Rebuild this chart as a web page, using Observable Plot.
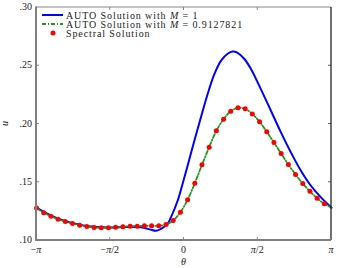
<!DOCTYPE html>
<html><head><meta charset="utf-8">
<script src="https://cdn.jsdelivr.net/npm/d3@7"></script>
<script src="https://cdn.jsdelivr.net/npm/@observablehq/plot@0.6"></script>
<style>body{margin:0;background:#fff} svg{display:block}</style>
</head><body><div id="chart"></div>
<script>
const PI = Math.PI;
// AUTO solution, M = 1 (blue)
const blueTheta = [-3.1416, -2.83, -2.52, -2.2, -1.9, -1.5708, -1.25, -0.914, -0.701, -0.595, -0.419, -0.346, -0.276, -0.134, -0.028, 0.074, 0.219, 0.361, 0.504, 0.644, 0.786, 0.929, 1.035, 1.141, 1.282, 1.424, 1.566, 1.849, 2.062, 2.274, 2.487, 2.699, 2.912, 3.1416];
const blueU = [0.1282, 0.1214, 0.1166, 0.1134, 0.1117, 0.1112, 0.1115, 0.1113, 0.1092, 0.1084, 0.1118, 0.1145, 0.1200, 0.1343, 0.1490, 0.1637, 0.1855, 0.2058, 0.2257, 0.2425, 0.2542, 0.2603, 0.2622, 0.2611, 0.2560, 0.2474, 0.2359, 0.2116, 0.1930, 0.1758, 0.1601, 0.1472, 0.1372, 0.1282];
// Spectral solution (red dots), evenly spaced grid on [-pi, pi)
const spectralU = [0.1278, 0.1238, 0.1209, 0.1183, 0.1163, 0.1146, 0.1131, 0.1120, 0.1112, 0.1109, 0.1109, 0.1114, 0.1118, 0.1122, 0.1123, 0.1126, 0.1126, 0.1126, 0.1137, 0.1172, 0.1243, 0.1349, 0.1492, 0.1650, 0.1801, 0.1942, 0.2041, 0.2110, 0.2139, 0.2130, 0.2086, 0.2020, 0.1933, 0.1841, 0.1747, 0.1652, 0.1567, 0.1489, 0.1423, 0.1363, 0.1315];
const spectralTheta = spectralU.map((_, k) => -PI + 2 * PI * k / spectralU.length);
// AUTO solution, M = 0.9127821 (green dash-dot)
const greenTheta = [...spectralTheta, PI];
const greenU = [0.1278, 0.1238, 0.1209, 0.1183, 0.1163, 0.1146, 0.1131, 0.1120, 0.1112, 0.1109, 0.1109, 0.1114, 0.1118, 0.1122, 0.1123, 0.1126, 0.1126, 0.1126, 0.1137, 0.1172, 0.1243, 0.1349, 0.1492, 0.1650, 0.1801, 0.1942, 0.2041, 0.2110, 0.2139, 0.2130, 0.2086, 0.2020, 0.1933, 0.1841, 0.1747, 0.1652, 0.1567, 0.1489, 0.1423, 0.1363, 0.1315, 0.1282];

const yTicks = [0.10, 0.15, 0.20, 0.25, 0.30];
const yTickLabels = [".10", ".15", ".20", ".25", ".30"];
const xTicks = [-PI, -PI / 2, 0, PI / 2, PI];
const xTickLabels = [["−", "π", ""], ["−", "π", "/2"], ["", "", "0"], ["", "π", "/2"], ["", "π", ""]];
const legendPrefix = ["AUTO Solution with ", "AUTO Solution with ", "Spectral Solution"];
const legendSuffix = [" = 1", " = 0.9127821", ""];

const blue = blueTheta.map((t, i) => ({t, u: blueU[i]}));
const green = greenTheta.map((t, i) => ({t, u: greenU[i]}));
const spec = spectralTheta.map((t, i) => ({t, u: spectralU[i]}));

const FONT = "Liberation Serif";
const plot = Plot.plot({
  width: 339, height: 268,
  marginLeft: 36, marginRight: 8, marginTop: 7, marginBottom: 28,
  x: {domain: [-PI, PI], axis: null},
  y: {domain: [0.1, 0.3], axis: null},
  style: {fontFamily: FONT, fontSize: "10px", background: "white", overflow: "visible"},
  marks: [
    Plot.line(blue, {x: "t", y: "u", stroke: "#0000ff", strokeWidth: 2, curve: "catmull-rom"}),
    Plot.line(green, {x: "t", y: "u", stroke: "#1a9a1a", strokeWidth: 1.8, strokeDasharray: "4,2,1,2", curve: "catmull-rom"}),
    Plot.dot(spec, {x: "t", y: "u", r: 2.5, fill: "#ff0000", stroke: "none"})
  ]
});
document.getElementById("chart").appendChild(plot);

const sx = plot.scale("x"), sy = plot.scale("y");
const X = v => sx.apply(v), Y = v => sy.apply(v);
const svg = d3.select(plot);
const g = svg.append("g").attr("text-anchor", "start");
const x0 = X(-PI), x1 = X(PI), y0 = Y(0.1), y1 = Y(0.3);

// ticks (inward)
const inner = (arr) => arr.slice(1, -1);
inner(yTicks).forEach(v => {
  g.append("line").attr("x1", x0).attr("x2", x0 + 3).attr("y1", Y(v)).attr("y2", Y(v)).attr("stroke", "#888").attr("stroke-width", 1);
  g.append("line").attr("x1", x1).attr("x2", x1 - 3).attr("y1", Y(v)).attr("y2", Y(v)).attr("stroke", "#666").attr("stroke-width", 1);
});
inner(xTicks).forEach(v => {
  g.append("line").attr("x1", X(v)).attr("x2", X(v)).attr("y1", y0).attr("y2", y0 - 3).attr("stroke", "#888").attr("stroke-width", 1);
  g.append("line").attr("x1", X(v)).attr("x2", X(v)).attr("y1", y1).attr("y2", y1 + 3).attr("stroke", "#888").attr("stroke-width", 1);
});
// frame
g.append("line").attr("x1", x0).attr("x2", x1).attr("y1", y1).attr("y2", y1).attr("stroke", "#888").attr("stroke-width", 1);
g.append("line").attr("x1", x1).attr("x2", x1).attr("y1", y1).attr("y2", y0).attr("stroke", "#111").attr("stroke-width", 1.2);
g.append("line").attr("x1", x0).attr("x2", x0).attr("y1", y1 - 0.5).attr("y2", y0 + 1).attr("stroke", "#808080").attr("stroke-width", 2);
g.append("line").attr("x1", x0 - 1).attr("x2", x1).attr("y1", y0).attr("y2", y0).attr("stroke", "#808080").attr("stroke-width", 2);

// y tick labels
yTicks.forEach((v, i) => {
  g.append("text").attr("x", x0 - 4).attr("y", Y(v)).attr("dy", "0.32em").attr("text-anchor", "end")
    .attr("font-family", FONT).attr("font-size", 10).attr("fill", "#222").text(yTickLabels[i]);
});
// x tick labels
xTicks.forEach((v, i) => {
  const [a, b, c] = xTickLabels[i];
  const t = g.append("text").attr("x", X(v)).attr("y", y0 + 13).attr("text-anchor", "middle")
    .attr("font-family", FONT).attr("font-size", 10).attr("fill", "#222");
  if (a) t.append("tspan").text(a);
  if (b) t.append("tspan").attr("font-style", "italic").text(b);
  if (c) t.append("tspan").text(c);
});
// axis labels
g.append("text").attr("x", X(0)).attr("y", y0 + 25).attr("text-anchor", "middle")
  .attr("font-family", FONT).attr("font-size", 10).attr("font-style", "italic").attr("fill", "#222").text("θ");
g.append("text").attr("transform", `translate(8,${Y(0.2)}) rotate(-90)`).attr("text-anchor", "middle")
  .attr("font-family", FONT).attr("font-size", 10).attr("font-style", "italic").attr("fill", "#222").text("u");

// legend
const lg = g.append("g").attr("text-anchor", "start");
const rows = [15, 24, 33];
lg.append("line").attr("x1", 42).attr("x2", 63).attr("y1", rows[0]).attr("y2", rows[0]).attr("stroke", "#0000ff").attr("stroke-width", 2);
lg.append("line").attr("x1", 42).attr("x2", 63).attr("y1", rows[1]).attr("y2", rows[1]).attr("stroke", "#1a9a1a").attr("stroke-width", 1.8).attr("stroke-dasharray", "4,2,1,2");
lg.append("circle").attr("cx", 53).attr("cy", rows[2]).attr("r", 2.5).attr("fill", "#ff0000");
rows.forEach((y, i) => {
  const t = lg.append("text").attr("x", 66).attr("y", y).attr("dy", "0.35em").attr("text-anchor", "start")
    .attr("font-family", FONT).attr("font-size", 10).attr("letter-spacing", "0.9px").attr("fill", "#222");
  t.append("tspan").text(legendPrefix[i]);
  if (legendSuffix[i]) {
    t.append("tspan").attr("font-style", "italic").text("M");
    t.append("tspan").text(legendSuffix[i]);
  }
});
</script>
</body></html>
